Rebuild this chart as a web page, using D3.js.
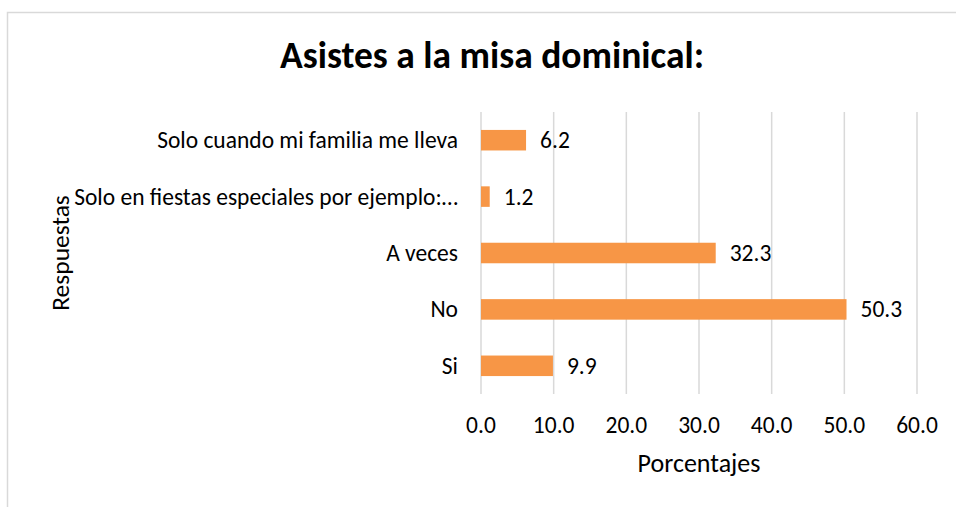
<!DOCTYPE html>
<html>
<head>
<meta charset="utf-8">
<script src="https://cdn.jsdelivr.net/npm/d3@7/dist/d3.min.js"></script>
<style>
  html, body { margin: 0; padding: 0; background: #fff; }
  svg { display: block; }
  text { font-family: Carlito, Calibri, Lato, "Open Sans", sans-serif; fill: #000; }
</style>
</head>
<body>
<script>
const categories = [
  "Solo cuando mi familia me lleva",
  "Solo en fiestas especiales por ejemplo:…",
  "A veces",
  "No",
  "Si"
];
const values = [6.2, 1.2, 32.3, 50.3, 9.9];
const xTicks = [0, 10, 20, 30, 40, 50, 60];
const title = "Asistes a la misa dominical:";
const xTitle = "Porcentajes";
const yTitle = "Respuestas";

const W = 956, H = 507;
const svg = d3.select("body").append("svg").attr("width", W).attr("height", H);

// chart border
svg.append("rect")
  .attr("x", 7.5).attr("y", 12.5)
  .attr("width", 1000).attr("height", 600)
  .attr("fill", "#fff").attr("stroke", "#d9d9d9").attr("stroke-width", 1.5);

const x = d3.scaleLinear().domain([0, 60]).range([481, 917]);
const y = d3.scaleBand().domain(categories).range([112, 394])
  .paddingInner(0.636).paddingOuter(0.318);

// gridlines
svg.append("g").selectAll("line").data(xTicks).join("line")
  .attr("x1", d => x(d)).attr("x2", d => x(d))
  .attr("y1", 112).attr("y2", 394)
  .attr("stroke", "#d9d9d9").attr("stroke-width", 1.5);

// bars
svg.append("g").selectAll("rect").data(categories).join("rect")
  .attr("x", x(0))
  .attr("y", d => y(d))
  .attr("width", (d, i) => x(values[i]) - x(0))
  .attr("height", y.bandwidth())
  .attr("fill", "#F79646");

// data labels
svg.append("g").selectAll("text").data(categories).join("text")
  .attr("x", (d, i) => x(values[i]) + 14)
  .attr("y", d => y(d) + y.bandwidth() / 2 + 8)
  .attr("font-size", 23.5)
  .text((d, i) => values[i].toFixed(1));

// category labels
svg.append("g").selectAll("text").data(categories).join("text")
  .attr("x", 458)
  .attr("y", d => y(d) + y.bandwidth() / 2 + 8)
  .attr("text-anchor", "end")
  .attr("font-size", 23.5)
  .text(d => d);

// x tick labels
svg.append("g").selectAll("text").data(xTicks).join("text")
  .attr("x", d => x(d))
  .attr("y", 433)
  .attr("text-anchor", "middle")
  .attr("font-size", 23.5)
  .text(d => d.toFixed(1));

// axis titles
svg.append("text")
  .attr("x", (x(0) + x(60)) / 2).attr("y", 472)
  .attr("text-anchor", "middle").attr("font-size", 26)
  .text(xTitle);

svg.append("text")
  .attr("transform", `translate(69,253) rotate(-90)`)
  .attr("text-anchor", "middle").attr("font-size", 25.5)
  .text(yTitle);

// title
svg.append("text")
  .attr("x", 492).attr("y", 68)
  .attr("text-anchor", "middle")
  .attr("font-size", 37.5).attr("font-weight", "bold")
  .text(title);
</script>
</body>
</html>
